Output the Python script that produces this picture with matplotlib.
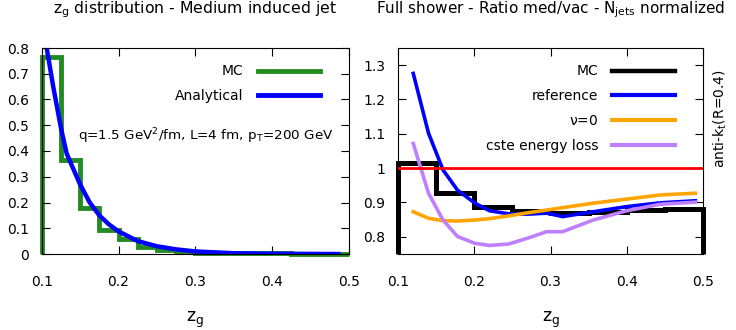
import matplotlib
matplotlib.use("Agg")
import matplotlib.pyplot as plt
from matplotlib.lines import Line2D
from matplotlib.ticker import FuncFormatter, MultipleLocator

# Left panel: z_g distribution for the medium-induced jet
zg_edges = [0.1 + 0.025 * i for i in range(17)]
mc_zg = [0.766, 0.365, 0.179, 0.093, 0.057, 0.026, 0.015, 0.009,
         0.005, 0.004, 0.003, 0.002, 0.002, 0.001, 0.001, 0.001]
an_zg_x = [0.1065, 0.115, 0.125, 0.1325, 0.15, 0.1625, 0.175, 0.1875, 0.2,
           0.225, 0.25, 0.275, 0.3, 0.35, 0.4, 0.45, 0.489]
an_zg_y = [0.8, 0.65, 0.49, 0.39, 0.27, 0.2, 0.15, 0.115, 0.088,
           0.05, 0.03, 0.018, 0.01, 0.003, 0.001, 0.0005, 0.0]

# Right panel: med/vac ratio, N_jets normalized
ratio_edges = [0.1, 0.15, 0.2, 0.25, 0.3, 0.35, 0.4, 0.45, 0.5]
mc_ratio = [1.014, 0.927, 0.886, 0.876, 0.868, 0.872, 0.879, 0.881]
ratio_x = [0.120, 0.140, 0.159, 0.178, 0.201, 0.220, 0.245, 0.270,
           0.295, 0.316, 0.356, 0.400, 0.444, 0.490]
ref_ratio = [1.276, 1.102, 0.995, 0.936, 0.898, 0.876, 0.867, 0.866,
             0.869, 0.859, 0.873, 0.888, 0.899, 0.905]
nu0_ratio = [0.873, 0.854, 0.847, 0.846, 0.849, 0.853, 0.861, 0.870,
             0.878, 0.885, 0.898, 0.910, 0.922, 0.927]
cste_ratio = [1.072, 0.927, 0.849, 0.801, 0.781, 0.775, 0.779, 0.796,
              0.815, 0.815, 0.849, 0.876, 0.895, 0.901]

GREEN = "#228b22"
BLUE = "#0000ff"
ORANGE = "#ffa500"
PURPLE = "#bf80ff"

plt.rcParams["font.family"] = "DejaVu Sans"
plt.rcParams["mathtext.fontset"] = "dejavusans"

fig = plt.figure(figsize=(7.36, 3.3), dpi=100)
W, H = 736.0, 330.0
ax1 = fig.add_axes([41.7 / W, 1 - 254 / H, (349 - 41.7) / W, 206 / H])
ax2 = fig.add_axes([398 / W, 1 - 254 / H, (703 - 398) / W, 206 / H])

fmt = FuncFormatter(lambda v, _: f"{v:g}")
for ax in (ax1, ax2):
    ax.set_xlim(0.1, 0.5)
    ax.xaxis.set_major_locator(MultipleLocator(0.1))
    ax.yaxis.set_major_locator(MultipleLocator(0.1))
    ax.xaxis.set_major_formatter(fmt)
    ax.yaxis.set_major_formatter(fmt)
    ax.tick_params(direction="in", top=True, right=True, length=6,
                   width=0.8, labelsize=10)
    ax.tick_params(axis="x", pad=15)
    ax.tick_params(axis="y", pad=9)
    for sp in ax.spines.values():
        sp.set_linewidth(0.8)
    ax.set_xlabel(r"z$_\mathregular{g}$", fontsize=12.5)
    ax.xaxis.set_label_coords(0.5, -0.27)

# --- left panel ---
ax1.set_ylim(0, 0.8)
ax1.stairs(mc_zg, zg_edges, baseline=0, color=GREEN, lw=3.5, clip_on=False)
ax1.plot(an_zg_x, an_zg_y, color=BLUE, lw=3.2, solid_capstyle="butt")
ax1.set_title(r"z$_\mathregular{g}$ distribution - Medium induced jet",
              fontsize=11.3, pad=25)
ax1.text(0.948, 0.553,
         r"q=1.5 GeV$^\mathregular{2}$/fm, L=4 fm, p$_\mathregular{T}$=200 GeV",
         transform=ax1.transAxes, ha="right", va="baseline", fontsize=9.7)
h1 = [Line2D([], [], color=GREEN, lw=3.5), Line2D([], [], color=BLUE, lw=3.5)]
ax1.legend(h1, ["MC", "Analytical"], loc="upper right",
           bbox_to_anchor=(0.906, 0.92), frameon=False, markerfirst=False,
           borderpad=0, borderaxespad=0, handlelength=4.5, handletextpad=1.0,
           labelspacing=0.78, fontsize=10)

# --- right panel ---
ax2.set_ylim(0.75, 1.35)
ax2.stairs(mc_ratio, ratio_edges, baseline=0.75, color="black", lw=3.6,
           clip_on=False, zorder=2)
ax2.plot(ratio_x, ref_ratio, color=BLUE, lw=2.6, zorder=3)
ax2.plot(ratio_x, nu0_ratio, color=ORANGE, lw=2.6, zorder=3)
ax2.plot(ratio_x, cste_ratio, color=PURPLE, lw=2.6, zorder=3)
ax2.axhline(1.0, color="#ff0000", lw=2.0, zorder=4)
ax2.set_title(r"Full shower - Ratio med/vac - N$_\mathregular{jets}$ normalized",
              fontsize=11, pad=25)
h2 = [Line2D([], [], color="black", lw=3.2),
      Line2D([], [], color=BLUE, lw=3.0),
      Line2D([], [], color=ORANGE, lw=3.0),
      Line2D([], [], color=PURPLE, lw=3.0)]
ax2.legend(h2, ["MC", "reference", r"$\mathregular{\nu}$=0", "cste energy loss"],
           loc="upper right", bbox_to_anchor=(0.908, 0.92), frameon=False,
           markerfirst=False, borderpad=0, borderaxespad=0, handlelength=4.5,
           handletextpad=1.0, labelspacing=0.78, fontsize=10)

fig.text(720 / W, 1 - 118.5 / H, r"anti-k$_\mathregular{t}$(R=0.4)",
         rotation=90, ha="center", va="center", fontsize=10)

fig.savefig("out.png", dpi=100)
